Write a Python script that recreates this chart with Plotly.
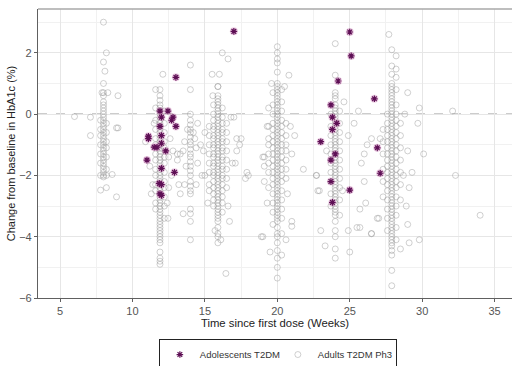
import plotly.graph_objects as go

# ---------------- Adolescents T2DM ----------------
adol_x = [17.0, 13.0, 25.0, 25.1, 24.2, 26.7, 23.7, 23.8, 24.1, 23.8, 23.0, 26.9, 24.0, 23.7,
          27.1, 23.7, 25.0, 23.8, 11.9, 12.45, 12.0, 12.8, 12.7, 11.9, 13.0, 11.1, 11.1, 12.0,
          11.5, 11.7, 12.0, 12.3, 11.0, 12.9, 12.0, 11.85, 12.0, 11.9, 12.0]
adol_y = [2.7, 1.2, 2.68, 1.9, 1.08, 0.5, 0.3, -0.1, -0.3, -0.5, -0.9, -1.1, -1.3, -1.5,
          -1.93, -2.2, -2.48, -2.88, 0.1, 0.1, -0.1, -0.1, -0.2, -0.4, -0.4, -0.72, -0.8, -0.7,
          -1.08, -1.08, -0.95, -1.2, -1.5, -1.9, -1.77, -2.26, -2.3, -2.6, -2.65]

# ---------------- Adults T2DM Ph3 (columns: x value -> y values) ----------------
a8_x80 = [0.7, 0.6, 0.4, 0.3, 0.2, 0.1, 0.0, -0.1, -0.2, -0.3, -0.4, -0.5, -0.6, -0.7, -0.8,
          -0.9, -1.0, -1.1, -1.2, -1.3, -1.4, -1.5, -1.6, -1.7, -1.8, -1.9, -2.0, -2.05]
a8_x78 = [-0.2, -0.5, -0.7, -1.0, -1.3, -1.6, -2.0, -2.48]
a8_x82 = [-0.3, -0.6, -0.9, -1.1, -1.4, -1.8, -2.0, -2.4]
a8_sx = [6.0, 7.1, 7.1, 8.0, 8.2, 8.0, 8.1, 8.0, 8.3, 7.9, 9.0, 8.9, 9.0, 8.6, 8.9]
a8_sy = [-0.08, -0.1, -0.7, 3.0, 2.0, 1.7, 1.4, 1.0, 0.7, 0.7, 0.6, -0.45, -0.45, -1.97, -2.7]

a12_x119 = [0.8, 0.6, 0.45, 0.3, 0.2, 0.1, 0.0, -0.1, -0.2, -0.3, -0.4, -0.5, -0.6, -0.7, -0.8,
            -0.9, -1.0, -1.1, -1.2, -1.3, -1.4, -1.5, -1.6, -1.7, -1.8, -1.9, -2.0, -2.1, -2.2,
            -2.3, -2.4, -2.5, -2.6, -2.7, -2.8, -2.9, -3.0, -3.1, -3.2, -3.3, -3.4, -3.5, -3.6,
            -3.7, -3.8, -3.9, -4.0, -4.1, -4.2, -4.5, -4.7, -4.8, -4.9]
a12_x116 = [0.8, 0.2, -0.2, -0.5, -0.8, -1.0, -1.3, -1.5, -1.8, -2.0, -2.3, -2.5, -2.9, -3.1]
a12_x122 = [0.1, -0.3, -0.6, -0.9, -1.1, -1.4, -1.6, -1.9, -2.2, -2.4, -2.7, -3.0, -3.4]
a12_sx = [12.1, 10.9, 11.3, 11.4, 11.2, 12.5, 12.6, 12.7, 12.45, 12.8, 12.5, 11.5, 13.1, 13.2, 12.4]
a12_sy = [1.3, -0.9, -2.6, -2.3, -1.7, -1.4, -0.8, -2.0, -3.4, -1.2, -2.4, -0.3, -1.5, -2.3, -2.9]

a14_x140 = [1.6, 0.8, 0.0, -0.2, -0.35, -0.5, -0.6, -0.75, -0.9, -1.0, -1.15, -1.3, -1.4, -1.55,
            -1.7, -1.85, -2.0, -2.2, -2.35, -2.5, -2.6, -3.1, -3.25, -3.5, -4.1]
a14_sx = [13.6, 13.5, 13.3, 14.3, 14.4, 13.7, 14.5, 13.6, 14.4, 13.3, 13.5, 14.2, 13.8, 14.5,
          14.8, 13.1, 14.7]
a14_sy = [-0.9, -1.2, -1.3, -0.8, -1.1, -1.7, -1.6, -2.3, -2.3, -2.6, -3.25, -0.6, -0.5, -0.3,
          -2.0, -1.3, -1.0]

a16_x159 = [0.9, 0.6, 0.5, 0.4, 0.3, 0.2, 0.1, 0.0, -0.1, -0.2, -0.3, -0.4, -0.5, -0.6, -0.7,
            -0.8, -0.9, -1.0, -1.1, -1.2, -1.3, -1.4, -1.5, -1.6, -1.7, -1.8, -1.9, -2.0, -2.1,
            -2.2, -2.3, -2.4, -2.5, -2.6, -2.7, -2.8, -2.9, -3.0, -3.1, -3.2, -3.3, -3.4, -3.5,
            -3.7, -3.9, -4.0, -4.2]
a16_x156 = [0.3, 0.0, -0.2, -0.4, -0.5, -0.7, -0.8, -1.0, -1.1, -1.3, -1.4, -1.6, -1.7, -1.9,
            -2.0, -2.2, -2.4, -2.6, -2.8, -3.0]
a16_x162 = [0.2, -0.1, -0.3, -0.5, -0.6, -0.8, -0.9, -1.1, -1.2, -1.4, -1.5, -1.7, -1.8, -2.0,
            -2.1, -2.3, -2.5, -2.7, -2.9, -3.2]
a16_x153 = [-0.4, -0.7, -1.0, -1.3, -1.6, -1.9, -2.3, -2.5]
a16_x165 = [-0.3, -0.6, -0.9, -1.2, -1.5, -1.8, -2.1, -2.4]
a16_sx = [15.5, 16.0, 16.2, 16.6, 15.55, 15.9, 16.45, 16.7, 14.9, 15.0, 16.9, 16.8, 17.0, 17.2,
          17.5, 17.2, 17.1, 17.9, 18.0, 19.3, 17.4, 17.8, 18.9, 19.1, 19.1, 19.1, 15.2, 16.6,
          15.0, 16.1, 15.7]
a16_sy = [1.3, 1.3, 2.0, 1.8, 0.6, 0.9, -5.2, -3.5, -1.2, -2.0, -1.6, -0.1, -0.1, -0.8,
          -0.8, -1.2, -1.6, -1.9, -2.0, -0.4, -1.0, -2.1, -4.0, -1.4, -1.7, -2.2, -2.9, -3.0,
          -0.6, -4.1, -3.8]

a20_x200 = [2.2, 2.0, 1.8, 1.67, 1.37, 1.0, 0.9, 0.8, 0.7, 0.6, 0.5, 0.4, 0.3, 0.2, 0.1, 0.0,
            -0.1, -0.2, -0.3, -0.4, -0.5, -0.6, -0.7, -0.8, -0.9, -1.0, -1.1, -1.2, -1.3, -1.4,
            -1.5, -1.6, -1.7, -1.8, -1.9, -2.0, -2.1, -2.2, -2.3, -2.4, -2.5, -2.6, -2.7, -2.8,
            -2.9, -3.0, -3.1, -3.2, -3.3, -3.4, -3.5, -3.7, -3.9, -4.0, -4.2, -4.45, -4.7,
            -5.0, -5.35]
a20_x197 = [0.7, 0.3, 0.0, -0.3, -0.5, -0.7, -0.9, -1.1, -1.3, -1.5, -1.7, -1.9, -2.1, -2.3,
            -2.6, -2.9, -3.2, -3.6]
a20_x203 = [0.8, 0.4, 0.1, -0.2, -0.4, -0.6, -0.8, -1.0, -1.2, -1.4, -1.6, -1.8, -2.0, -2.2,
            -2.5, -2.8, -3.1, -3.4, -3.9]
a20_x194 = [-0.4, -0.8, -1.0, -1.3, -1.6, -1.9, -2.4]
a20_x206 = [-0.3, -0.7, -1.0, -1.2, -1.5, -1.8, -2.1]
a20_sx = [20.8, 20.9, 21.2, 21.0, 21.8, 22.7, 19.0, 19.0, 21.0, 21.0, 20.6, 19.5, 20.3, 20.5,
          19.4, 19.6, 19.3, 20.7]
a20_sy = [1.27, -0.4, -0.7, -1.3, -1.8, -2.0, -1.4, -4.0, -3.5, -3.66, -4.1, -4.5, -4.6, 0.9,
          0.2, 1.0, -2.9, -2.6]

a24_x240 = [2.3, 1.27, 0.7, 0.6, 0.5, 0.3, 0.2, 0.1, 0.0, -0.1, -0.2, -0.3, -0.4, -0.5, -0.6,
            -0.7, -0.8, -0.9, -1.0, -1.1, -1.2, -1.3, -1.4, -1.5, -1.6, -1.7, -1.8, -1.9, -2.0,
            -2.1, -2.2, -2.3, -2.4, -2.5, -2.6, -2.7, -2.8, -2.9, -3.0, -3.1, -3.2, -3.3, -3.5,
            -3.8, -4.0, -4.4, -4.7]
a24_x237 = [0.0, -0.4, -0.7, -1.0, -1.3, -1.6, -1.9, -2.2, -2.6, -3.0]
a24_x243 = [0.1, -0.3, -0.6, -0.9, -1.2, -1.5, -1.8, -2.1, -2.4, -2.8, -3.3]
a24_sx = [23.3, 23.0, 24.9, 25.7, 25.0, 22.8, 22.7, 24.9, 25.3, 25.6, 26.2, 26.0, 26.5, 25.8,
          26.0, 26.1, 25.7, 25.5, 26.5, 27.0, 22.9, 24.6, 23.4, 24.5]
a24_sy = [-4.3, -3.8, -3.8, -3.7, -4.5, -2.5, -2.0, -0.7, -0.3, 0.1, -1.0, -1.3, -0.8, -1.6,
          -2.2, -2.9, -3.1, -3.7, -3.9, -3.4, -2.5, 0.4, -1.2, -2.5]

a28_x279 = [2.1, 1.57, 1.3, 1.0, 0.9, 0.8, 0.7, 0.6, 0.5, 0.4, 0.3, 0.2, 0.1, 0.0, -0.1, -0.2,
            -0.3, -0.4, -0.5, -0.6, -0.7, -0.8, -0.9, -1.0, -1.1, -1.2, -1.3, -1.4, -1.5, -1.6,
            -1.7, -1.8, -1.9, -2.0, -2.1, -2.2, -2.3, -2.4, -2.5, -2.6, -2.7, -2.8, -2.9, -3.0,
            -3.1, -3.2, -3.3, -3.4, -3.5, -3.6, -3.7, -3.8, -3.9, -4.0, -4.1, -4.2, -4.3,
            -4.45, -4.6, -5.1, -5.6]
a28_x276 = [0.0, -0.3, -0.5, -0.7, -0.9, -1.1, -1.3, -1.5, -1.7, -1.9, -2.1, -2.3, -2.5, -2.8,
            -3.1, -3.4, -3.8]
a28_x282 = [0.8, 0.3, 0.0, -0.2, -0.4, -0.6, -0.8, -1.0, -1.2, -1.4, -1.6, -1.8, -2.0, -2.2,
            -2.4, -2.7, -3.0, -3.3, -3.7, -4.1]
a28_x273 = [-0.5, -0.9, -1.3, -1.8, -2.2, -2.7]
a28_x285 = [-0.3, -0.7, -1.1, -1.5, -1.9, -2.3, -2.8]
a28_sx = [27.7, 28.2, 28.2, 28.2, 28.5, 29.1, 29.8, 29.0, 28.9, 26.9, 26.5, 32.1, 32.3, 34.0,
          29.8, 29.7, 30.1, 28.8, 27.1, 29.0, 28.7, 29.0, 29.3, 29.1]
a28_sy = [2.6, 1.9, 1.47, 1.2, -4.4, -4.2, -4.1, -3.6, -3.0, -3.4, -3.9, 0.1, -2.0, -3.3,
          0.2, -0.3, -1.3, 0.0, -0.8, -1.2, -2.0, 0.7, -1.9, -2.4]

columns = [
    (8.0, a8_x80), (7.8, a8_x78), (8.2, a8_x82),
    (11.9, a12_x119), (11.6, a12_x116), (12.2, a12_x122),
    (14.0, a14_x140),
    (15.9, a16_x159), (15.6, a16_x156), (16.2, a16_x162), (15.3, a16_x153), (16.5, a16_x165),
    (20.0, a20_x200), (19.7, a20_x197), (20.3, a20_x203), (19.4, a20_x194), (20.6, a20_x206),
    (24.0, a24_x240), (23.7, a24_x237), (24.3, a24_x243),
    (27.9, a28_x279), (27.6, a28_x276), (28.2, a28_x282), (27.3, a28_x273), (28.5, a28_x285),
]
scatters = [(a8_sx, a8_sy), (a12_sx, a12_sy), (a14_sx, a14_sy), (a16_sx, a16_sy),
            (a20_sx, a20_sy), (a24_sx, a24_sy), (a28_sx, a28_sy)]

adult_x, adult_y = [], []
for xv, ys in columns:
    adult_x += [xv] * len(ys)
    adult_y += ys
for xs, ys in scatters:
    adult_x += xs
    adult_y += ys

x_ticks = [5, 10, 15, 20, 25, 30, 35]
y_ticks = [-6, -4, -2, 0, 2]

FONT = "Liberation Sans, Arial"

fig = go.Figure()
fig.add_trace(go.Scatter(
    x=adult_x, y=adult_y, mode="markers", name="Adults T2DM Ph3",
    marker=dict(symbol="circle-open", size=6, color="rgba(150,150,150,0.5)",
                line=dict(width=0.9, color="rgba(150,150,150,0.5)")),
))
fig.add_trace(go.Scatter(
    x=adol_x, y=adol_y, mode="markers", showlegend=False, hoverinfo="skip",
    marker=dict(symbol="circle", size=8, color="rgba(205,120,180,0.35)", line=dict(width=0)),
))
fig.add_trace(go.Scatter(
    x=adol_x, y=adol_y, mode="markers", name="Adolescents T2DM",
    marker=dict(symbol="asterisk-open", size=5.5, color="#5e0f55",
                line=dict(width=1.2, color="#5e0f55")),
))

fig.add_hline(y=0, line=dict(color="#999999", width=1.3, dash="dash"), layer="below")
fig.add_shape(type="line", xref="paper", yref="paper", x0=0, x1=1, y0=1, y1=1,
              line=dict(color="#a8a8a8", width=1.5))

axis_common = dict(
    showgrid=True, gridcolor="#e6e6e6", gridwidth=1, zeroline=False,
    showline=True, linecolor="#606060", linewidth=1.2,
    ticks="outside", ticklen=3, tickcolor="#606060", automargin=False,
    tickfont=dict(family=FONT, size=11, color="#555555"),
)
fig.update_xaxes(
    range=[3.48, 36.2], tickvals=x_ticks,
    minor=dict(dtick=2.5, tick0=0, showgrid=True, gridcolor="#f1f1f1", gridwidth=1, ticks=""),
    title=dict(text="Time since first dose (Weeks)", standoff=1,
               font=dict(family=FONT, size=11.3, color="#222222")),
    **axis_common,
)
fig.update_yaxes(
    range=[-6.0, 3.43], tickvals=y_ticks,
    minor=dict(dtick=1, tick0=0, showgrid=True, gridcolor="#f1f1f1", gridwidth=1, ticks=""),
    title=dict(text="Change from baseline in HbA1c (%)", standoff=1,
               font=dict(family=FONT, size=11, color="#222222")),
    **axis_common,
)

fig.update_layout(
    width=513, height=366,
    margin=dict(l=38, r=1, t=9, b=68, autoexpand=False),
    plot_bgcolor="white", paper_bgcolor="white",
    font=dict(family=FONT, size=10, color="#222222"),
    legend=dict(orientation="h", x=0.255, xanchor="left", y=-0.142, yanchor="top",
                bordercolor="#222222", borderwidth=1, entrywidth=73, entrywidthmode="pixels",
                traceorder="reversed",
                font=dict(family=FONT, size=9.5, color="#333333")),
)

fig.write_html("out.html", config={"displayModeBar": False},
               post_script="document.body.style.margin='0';document.body.style.overflow='hidden';")
